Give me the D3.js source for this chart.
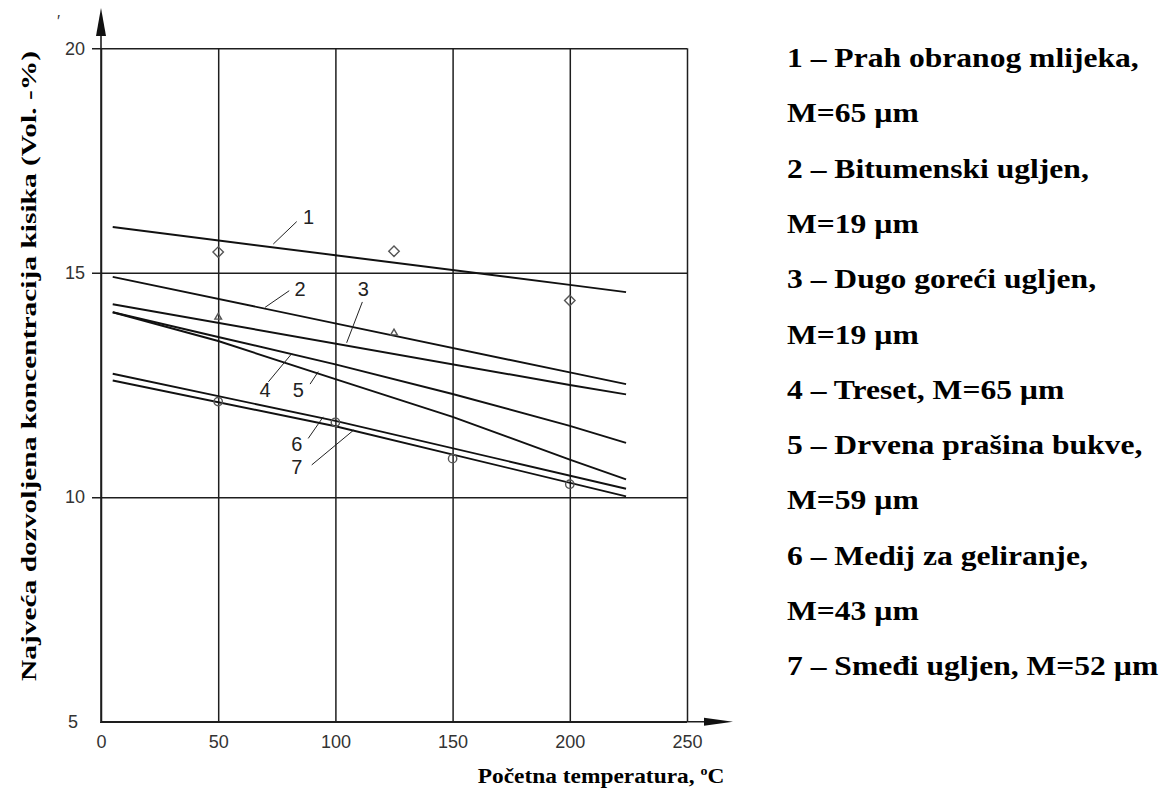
<!DOCTYPE html>
<html><head><meta charset="utf-8">
<script src="https://cdn.jsdelivr.net/npm/d3@7"></script>
<style>
html,body{margin:0;padding:0;background:#fff;}
svg{display:block;}
</style></head>
<body>
<svg id="chart" width="1172" height="794"></svg>
<script>
// ---- data ----
const xTicks = [0, 50, 100, 150, 200, 250];
const yTicks = [5, 10, 15, 20];

const line1X = [5, 100, 200, 224];
const line1Y = [16.02, 15.39, 14.73, 14.57];
const line2X = [5, 200, 224];
const line2Y = [14.91, 12.78, 12.52];
const line3X = [5, 200, 224];
const line3Y = [14.30, 12.50, 12.29];
const line4X = [5, 50, 100, 150, 200, 224];
const line4Y = [14.12, 13.57, 12.96, 12.30, 11.59, 11.21];
const line5X = [5, 50, 100, 150, 200, 224];
const line5Y = [14.12, 13.48, 12.63, 11.79, 10.84, 10.40];
const line6X = [5, 100, 224];
const line6Y = [12.75, 11.70, 10.19];
const line7X = [5, 100, 224];
const line7Y = [12.60, 11.58, 10.02];

const diamondX = [50, 125, 200];
const diamondY = [15.46, 15.48, 14.38];
const triangleX = [50, 125];
const triangleY = [14.01, 13.66];
const circleX = [50, 100, 150, 200];
const circleY = [12.13, 11.67, 10.86, 10.29];

const curveLabels = ["1", "2", "3", "4", "5", "6", "7"];
const labelTX = [88.5, 84.9, 111.9, 70.0, 84.2, 83.5, 83.5];
const labelTY = [16.08, 14.49, 14.49, 12.23, 12.23, 11.03, 10.52];
const leadX1 = [73.5, 70.0, 104.8, 71.4, 89.2, 88.4, 89.9];
const leadY1 = [15.64, 14.23, 13.44, 12.57, 12.52, 11.31, 10.72];
const leadX2 = [83.5, 80.3, 111.5, 81.4, 92.7, 94.8, 107.9];
const leadY2 = [16.14, 14.60, 14.35, 13.20, 12.80, 11.79, 11.50];

const legendLines = [
  "1 – Prah obranog mlijeka,",
  "M=65 µm",
  "2 – Bitumenski ugljen,",
  "M=19 µm",
  "3 – Dugo goreći ugljen,",
  "M=19 µm",
  "4 – Treset, M=65 µm",
  "5 – Drvena prašina bukve,",
  "M=59 µm",
  "6 – Medij za geliranje,",
  "M=43 µm",
  "7 – Smeđi ugljen, M=52 µm"
];

const yTitle = "Najveća dozvoljena koncentracija kisika (Vol. -%)";

// ---- drawing ----
const svg = d3.select("#chart");
const x = d3.scaleLinear().domain([0, 250]).range([101, 687]);
const y = d3.scaleLinear().domain([5, 20]).range([721.7, 48.3]);
const gridColor = "#1e1e1e";

const yAxis = svg.append("g")
  .attr("transform", "translate(92,0)")
  .call(d3.axisLeft(y).tickValues(yTicks).tickSizeInner(-(687 - 92)).tickSizeOuter(0).tickPadding(7));
yAxis.select(".domain").remove();
yAxis.selectAll(".tick line").attr("stroke", gridColor).attr("stroke-width", 1.5);
yAxis.selectAll(".tick text")
  .attr("font-family", "'Liberation Sans', Arial, sans-serif")
  .attr("font-size", 18).attr("fill", "#333");
yAxis.selectAll(".tick").filter(d => d === 5).select("line").attr("x1", 8);
yAxis.selectAll(".tick").filter(d => d === 5).select("text").attr("x", -14);

const xAxis = svg.append("g")
  .attr("transform", `translate(0,${y(5)})`)
  .call(d3.axisBottom(x).tickValues(xTicks).tickSizeInner(-(y(5) - y(20))).tickSizeOuter(0).tickPadding(14));
xAxis.select(".domain").remove();
xAxis.selectAll(".tick line").attr("stroke", gridColor).attr("stroke-width", 1.5);
xAxis.selectAll(".tick text")
  .attr("font-family", "'Liberation Sans', Arial, sans-serif")
  .attr("font-size", 18).attr("fill", "#333");

svg.append("line").attr("x1", x(0)).attr("x2", 706).attr("y1", y(5)).attr("y2", y(5))
  .attr("stroke", gridColor).attr("stroke-width", 1.6);
svg.append("path").attr("d", `M704,${y(5) - 4} L733,${y(5)} L704,${y(5) + 4} Z`).attr("fill", "#111");
svg.append("line").attr("x1", x(0)).attr("x2", x(0)).attr("y1", y(5)).attr("y2", 34)
  .attr("stroke", gridColor).attr("stroke-width", 1.6);
svg.append("path").attr("d", `M${x(0) - 5},36 L${x(0)},8 L${x(0) + 5},36 Z`).attr("fill", "#111");

svg.append("text").attr("x", 57).attr("y", 27).text("′")
  .attr("font-family", "'Liberation Sans', Arial, sans-serif").attr("font-size", 16).attr("fill", "#333");

const lineGen = d3.line().x(d => x(d[0])).y(d => y(d[1]));
const seriesX = [line1X, line2X, line3X, line4X, line5X, line6X, line7X];
const seriesY = [line1Y, line2Y, line3Y, line4Y, line5Y, line6Y, line7Y];
seriesX.forEach((xs, i) => {
  const pts = xs.map((v, j) => [v, seriesY[i][j]]);
  svg.append("path").datum(pts).attr("d", lineGen)
    .attr("fill", "none").attr("stroke", "#111").attr("stroke-width", 1.9);
});

const markerStroke = "#555";
function drawMarkers(xs, ys, type, size) {
  const sym = d3.symbol().type(type).size(size);
  xs.forEach((v, i) => {
    svg.append("path").attr("d", sym())
      .attr("transform", `translate(${x(v)},${y(ys[i])})`)
      .attr("fill", "none").attr("stroke", markerStroke).attr("stroke-width", 1.4);
  });
}
drawMarkers(diamondX, diamondY, d3.symbolDiamond2, 70);
drawMarkers(triangleX, triangleY, d3.symbolTriangle2, 32);
drawMarkers(circleX, circleY, d3.symbolCircle, 55);

curveLabels.forEach((lab, i) => {
  svg.append("line")
    .attr("x1", x(leadX1[i])).attr("y1", y(leadY1[i]))
    .attr("x2", x(leadX2[i])).attr("y2", y(leadY2[i]))
    .attr("stroke", "#222").attr("stroke-width", 1);
  svg.append("text").attr("x", x(labelTX[i])).attr("y", y(labelTY[i]))
    .attr("text-anchor", "middle")
    .attr("font-family", "'Liberation Sans', Arial, sans-serif")
    .attr("font-size", 20).attr("fill", "#222").text(lab);
});

svg.append("text")
  .attr("transform", "translate(36,366) rotate(-90)")
  .attr("text-anchor", "middle")
  .attr("font-family", "'Liberation Serif', 'Times New Roman', serif")
  .attr("font-weight", "bold").attr("font-size", 22).attr("fill", "#000")
  .attr("textLength", 630).attr("lengthAdjust", "spacingAndGlyphs")
  .text(yTitle);

const xt = svg.append("text")
  .attr("transform", "translate(601,783) scale(1.17,1)")
  .attr("text-anchor", "middle")
  .attr("font-family", "'Liberation Serif', 'Times New Roman', serif")
  .attr("font-weight", "bold").attr("font-size", 20).attr("fill", "#000");
xt.append("tspan").text("Početna temperatura, ");
xt.append("tspan").attr("dy", -8).attr("font-size", 12).text("o");
xt.append("tspan").attr("dy", 8).text("C");

const leg = svg.append("g");
legendLines.forEach((t, i) => {
  leg.append("text")
    .attr("transform", `translate(787,${67 + i * 55.3}) scale(1.17,1)`)
    .attr("font-family", "'Liberation Serif', 'Times New Roman', serif")
    .attr("font-weight", "bold").attr("font-size", 27).attr("fill", "#000")
    .text(t);
});
</script>
</body></html>
